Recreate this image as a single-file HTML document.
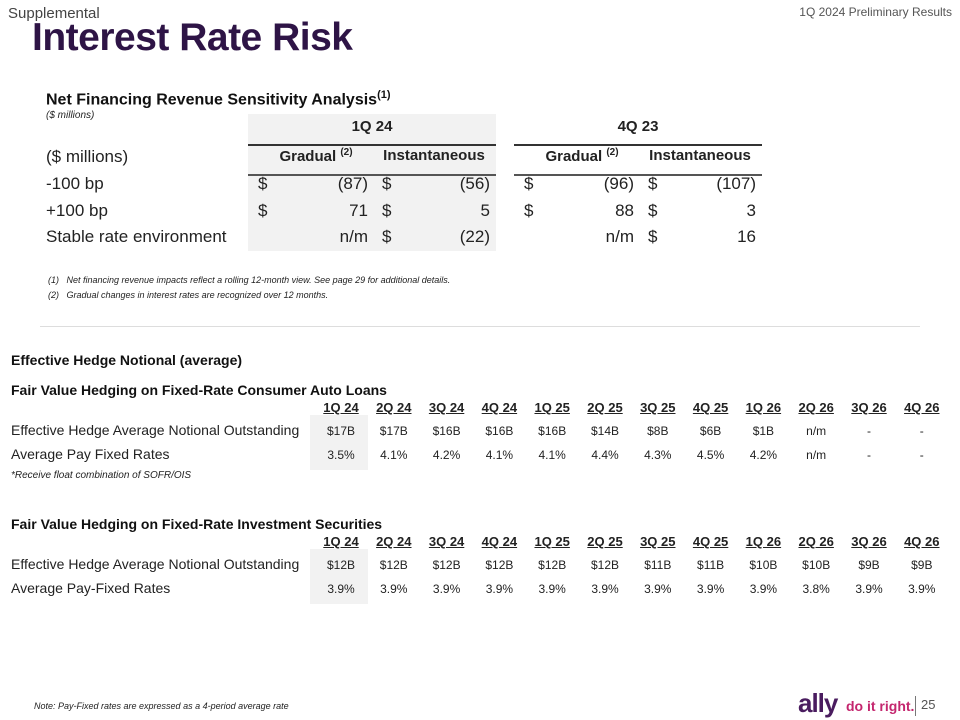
<!DOCTYPE html>
<html><head><meta charset="utf-8"><style>
body{margin:0;width:960px;height:720px;background:#fff;position:relative;overflow:hidden;font-family:"Liberation Sans",sans-serif;color:#222}
.a{position:absolute;white-space:nowrap}
.b{font-weight:bold}
.r{text-align:right}
.c{text-align:center}
</style></head><body>
<div class="a" style="left:8px;top:5px;font-size:15px;color:#444">Supplemental</div>
<div class="a" style="right:8px;top:5px;font-size:12px;color:#555">1Q 2024 Preliminary Results</div>
<div class="a b" style="left:32px;top:16px;font-size:39px;color:#2e1446;letter-spacing:-0.5px">Interest Rate Risk</div>

<div class="a b" style="left:46px;top:89px;font-size:16px;color:#111">Net Financing Revenue Sensitivity Analysis<sup style="font-size:11px">(1)</sup></div>
<div class="a" style="left:46px;top:110px;font-size:10px;font-style:italic">($ millions)</div>

<div class="a" style="left:248px;top:114px;width:248px;height:137px;background:#f2f2f2"></div>
<div class="a" style="left:248px;top:144px;width:248px;height:2px;background:#333"></div>
<div class="a" style="left:514px;top:144px;width:248px;height:2px;background:#333"></div>
<div class="a" style="left:248px;top:174px;width:248px;height:2px;background:#555"></div>
<div class="a" style="left:514px;top:174px;width:248px;height:2px;background:#555"></div>
<div class="a b c" style="left:248px;width:248px;top:118px;font-size:15px">1Q 24</div>
<div class="a b c" style="left:514px;width:248px;top:118px;font-size:15px">4Q 23</div>

<div id="sens"></div>

<div class="a" style="left:48px;top:275px;font-size:9px;font-style:italic">(1)&nbsp;&nbsp;&nbsp;Net financing revenue impacts reflect a rolling 12-month view. See page 29 for additional details.</div>
<div class="a" style="left:48px;top:290px;font-size:9px;font-style:italic">(2)&nbsp;&nbsp;&nbsp;Gradual changes in interest rates are recognized over 12 months.</div>

<div class="a" style="left:40px;top:326px;width:880px;height:1px;background:#ddd"></div>

<div class="a b" style="left:11px;top:352px;font-size:14px;color:#111">Effective Hedge Notional (average)</div>
<div class="a b" style="left:11px;top:382px;font-size:14px;color:#111">Fair Value Hedging on Fixed-Rate Consumer Auto Loans</div>
<div class="a" style="left:310px;top:415px;width:58px;height:55px;background:#f2f2f2"></div>
<div class="a" style="left:11px;top:422px;font-size:14px">Effective Hedge Average Notional Outstanding</div>
<div class="a" style="left:11px;top:446px;font-size:14px">Average Pay Fixed Rates</div>
<div class="a" style="left:11px;top:470px;font-size:10px;font-style:italic">*Receive float combination of SOFR/OIS</div>

<div class="a b" style="left:11px;top:516px;font-size:14px;color:#111">Fair Value Hedging on Fixed-Rate Investment Securities</div>
<div class="a" style="left:310px;top:549px;width:58px;height:55px;background:#f2f2f2"></div>
<div class="a" style="left:11px;top:556px;font-size:14px">Effective Hedge Average Notional Outstanding</div>
<div class="a" style="left:11px;top:580px;font-size:14px">Average Pay-Fixed Rates</div>

<div id="qt"></div>

<div class="a" style="left:34px;top:701px;font-size:9px;font-style:italic">Note: Pay-Fixed rates are expressed as a 4-period average rate</div>
<div class="a b" style="left:798px;top:688px;font-size:26px;color:#4a1c5f;letter-spacing:-1px">ally</div>
<div class="a b" style="left:846px;top:698px;font-size:14px;color:#c4266e">do it right.</div>
<div class="a" style="left:915px;top:696px;width:1px;height:20px;background:#777"></div>
<div class="a" style="left:921px;top:697px;font-size:13px;color:#555">25</div>

<script>
const sensRows=["($ millions)","-100 bp","+100 bp","Stable rate environment"];
const grad1Q24=["(87)","71","n/m"];
const inst1Q24=["(56)","5","(22)"];
const grad4Q23=["(96)","88","n/m"];
const inst4Q23=["(107)","3","16"];
const quarters=["1Q 24","2Q 24","3Q 24","4Q 24","1Q 25","2Q 25","3Q 25","4Q 25","1Q 26","2Q 26","3Q 26","4Q 26"];
const autoNotional=["$17B","$17B","$16B","$16B","$16B","$14B","$8B","$6B","$1B","n/m","-","-"];
const autoRate=["3.5%","4.1%","4.2%","4.1%","4.1%","4.4%","4.3%","4.5%","4.2%","n/m","-","-"];
const secNotional=["$12B","$12B","$12B","$12B","$12B","$12B","$11B","$11B","$10B","$10B","$9B","$9B"];
const secRate=["3.9%","3.9%","3.9%","3.9%","3.9%","3.9%","3.9%","3.9%","3.9%","3.8%","3.9%","3.9%"];

function add(parent,txt,css,name,cls){
  const d=document.createElement('div');
  d.className='a '+(cls||'');
  d.style.cssText=css;
  d.textContent=txt;
  
  
  parent.appendChild(d);return d;
}
const s=document.getElementById('sens');
const rowY=[147,174,201,227];
sensRows.forEach((t,i)=>add(s,t,`left:46px;top:${rowY[i]}px;font-size:17px`,'row-label'));
function gh(x,w,t){const d=add(s,t,`left:${x}px;width:${w}px;top:${rowY[0]}px;font-size:15px`,'col-header','b c');return d;}
const g1=gh(256,120,'Gradual ');g1.innerHTML='Gradual <sup style="font-size:10px">(2)</sup>';
gh(372,124,'Instantaneous');
const g2=gh(522,120,'Gradual ');g2.innerHTML='Gradual <sup style="font-size:10px">(2)</sup>';
gh(638,124,'Instantaneous');
function col(vals,dollarX,right,name,skipDollar){
  vals.forEach((v,i)=>{
    const y=rowY[i+1];
    if(!(skipDollar&&v==='n/m')) add(s,'$',`left:${dollarX}px;top:${y}px;font-size:17px`,name+'-dollar');
    add(s,v,`right:${960-right}px;top:${y}px;font-size:17px`,name+'-value','r');
  });
}
col(grad1Q24,258,368,'gradual-1q24',true);
col(inst1Q24,382,490,'instant-1q24',false);
col(grad4Q23,524,634,'gradual-4q23',true);
col(inst4Q23,648,756,'instant-4q23',false);

const q=document.getElementById('qt');
const x0=341,dx=52.8;
function tbl(hy,r1,r2,name){
  quarters.forEach((t,i)=>{
    const cx=x0+dx*i;
    add(q,t,`left:${cx-30}px;width:60px;top:${hy}px;font-size:13px;text-decoration:underline`,name+'-quarter','b c');
    add(q,r1[i],`left:${cx-30}px;width:60px;top:${hy+24}px;font-size:12px`,name+'-notional','c');
    add(q,r2[i],`left:${cx-30}px;width:60px;top:${hy+48}px;font-size:12px`,name+'-rate','c');
  });
}
tbl(400,autoNotional,autoRate,'auto');
tbl(534,secNotional,secRate,'sec');
</script>
</body></html>
